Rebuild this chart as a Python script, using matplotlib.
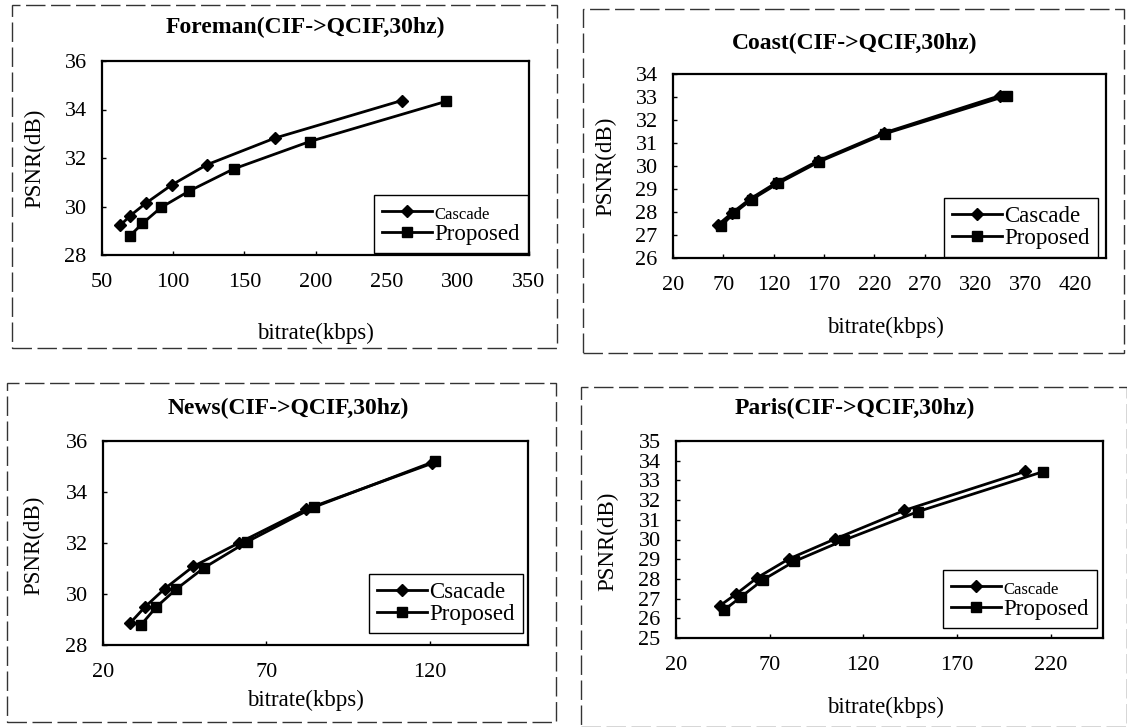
import matplotlib
matplotlib.use("Agg")
import matplotlib.pyplot as plt
from matplotlib.patches import Rectangle

W, H = 1127, 727

# ---- data ----
titles = ["Foreman(CIF->QCIF,30hz)", "Coast(CIF->QCIF,30hz)",
          "News(CIF->QCIF,30hz)", "Paris(CIF->QCIF,30hz)"]
legend_first = ["Cascade", "Cascade", "Csacade", "Cascade"]

foreman_casc_x = [62.8, 69.8, 80.9, 99.0, 123.6, 171.4, 260.6]
foreman_casc_y = [29.22, 29.62, 30.14, 30.89, 31.72, 32.82, 34.37]
foreman_prop_x = [69.8, 78.4, 91.5, 111.0, 142.5, 196.0, 292.0]
foreman_prop_y = [28.80, 29.30, 29.96, 30.63, 31.55, 32.68, 34.34]

coast_casc_x = [64.3, 78.9, 96.6, 122.0, 164.0, 229.6, 344.8]
coast_casc_y = [27.43, 27.97, 28.57, 29.26, 30.22, 31.44, 33.06]
coast_prop_x = [67.9, 80.3, 98.0, 124.3, 165.4, 231.0, 352.0]
coast_prop_y = [27.40, 27.94, 28.54, 29.24, 30.19, 31.41, 33.06]

news_casc_x = [28.3, 32.9, 38.9, 47.6, 61.5, 82.2, 120.6]
news_casc_y = [28.86, 29.50, 30.21, 31.08, 32.00, 33.33, 35.12]
news_prop_x = [31.5, 36.3, 42.4, 50.8, 64.1, 84.6, 121.4]
news_prop_y = [28.77, 29.49, 30.19, 31.02, 32.05, 33.41, 35.20]

paris_casc_x = [43.4, 52.2, 63.5, 80.2, 105.0, 142.0, 206.6]
paris_casc_y = [26.64, 27.24, 28.07, 29.01, 30.03, 31.48, 33.46]
paris_prop_x = [45.7, 54.9, 66.4, 83.2, 109.8, 149.3, 216.2]
paris_prop_y = [26.42, 27.10, 27.95, 28.89, 29.97, 31.42, 33.45]

xticks = [list(range(50, 351, 50)), list(range(20, 421, 50)),
          [20, 70, 120], [20, 70, 120, 170, 220]]
yticks = [list(range(28, 37, 2)), list(range(26, 35)),
          list(range(28, 37, 2)), list(range(25, 36))]
xlims = [(50, 350), (20, 450), (20, 150), (20, 248)]
ylims = [(28, 36), (26, 34), (28, 36), (25, 35)]

series = [
    (foreman_casc_x, foreman_casc_y, foreman_prop_x, foreman_prop_y),
    (coast_casc_x, coast_casc_y, coast_prop_x, coast_prop_y),
    (news_casc_x, news_casc_y, news_prop_x, news_prop_y),
    (paris_casc_x, paris_casc_y, paris_prop_x, paris_prop_y),
]

# ---- layout (pixels) ----
axes_px = [(102, 61, 529, 255), (673, 74, 1106, 258),
           (103, 441, 528, 645), (676, 441, 1103, 638)]
frames_px = [(12, 5, 557, 348), (583, 9, 1124, 353),
             (7, 383, 556, 722), (581, 387, 1127, 727)]
title_px = [(305, 27), (855, 43), (288, 408), (855, 408)]
xlabel_px = [(315, 333), (885, 327), (305, 700), (885, 707)]
ylabel_px = [(35, 158), (606, 166), (34, 545), (608, 541)]
legend_px = [(528, 253), (1098, 257), (523, 633), (1097, 628)]
legend_small = [True, False, False, True]

plt.rcParams["font.family"] = ["Liberation Serif", "DejaVu Serif"]

fig = plt.figure(figsize=(W / 100, H / 100), dpi=100)


def fx(px):
    return px / W


def fy(py):
    return 1 - py / H


for i in range(4):
    l, t, r, b = axes_px[i]
    ax = fig.add_axes([fx(l), fy(b), (r - l) / W, (b - t) / H])
    cx, cy, px_, py_ = series[i]
    h1, = ax.plot(cx, cy, color="black", lw=2, marker="D", ms=6.5,
                  label=legend_first[i])
    h2, = ax.plot(px_, py_, color="black", lw=2, marker="s", ms=7.5,
                  label="Proposed")
    ax.set_xlim(*xlims[i])
    ax.set_ylim(*ylims[i])
    ax.set_xticks(xticks[i])
    ax.set_yticks(yticks[i])
    ax.tick_params(direction="in", length=3, width=1, labelsize=16)
    ax.tick_params(axis="x", pad=13)
    ax.tick_params(axis="y", pad=11)
    for s in ax.spines.values():
        s.set_linewidth(1.6)

    # dashed frame around the panel
    fl, ft, fr, fb = frames_px[i]
    fig.patches.append(Rectangle((fx(fl), fy(fb)), (fr - fl) / W, (fb - ft) / H,
                                 transform=fig.transFigure, fill=False,
                                 edgecolor="#333333", lw=1,
                                 linestyle=(0, (14, 4))))

    fig.text(fx(title_px[i][0]), fy(title_px[i][1]), titles[i],
             ha="center", va="center", fontsize=17, fontweight="bold")
    fig.text(fx(xlabel_px[i][0]), fy(xlabel_px[i][1]), "bitrate(kbps)",
             ha="center", va="center", fontsize=16.5)
    fig.text(fx(ylabel_px[i][0]), fy(ylabel_px[i][1]), "PSNR(dB)",
             ha="center", va="center", fontsize=16.5, rotation=90)

    leg = ax.legend(handles=[h1, h2], loc="lower right",
                    bbox_to_anchor=(fx(legend_px[i][0]), fy(legend_px[i][1])),
                    bbox_transform=fig.transFigure, borderaxespad=0,
                    fancybox=False, edgecolor="black", framealpha=1,
                    fontsize=16.5, handlelength=2.2, handletextpad=0.1,
                    borderpad=0.35, labelspacing=0.05, numpoints=1)
    leg.get_frame().set_linewidth(1.0)
    if legend_small[i]:
        leg.get_texts()[0].set_fontsize(12)

fig.savefig("out.png", dpi=100)
